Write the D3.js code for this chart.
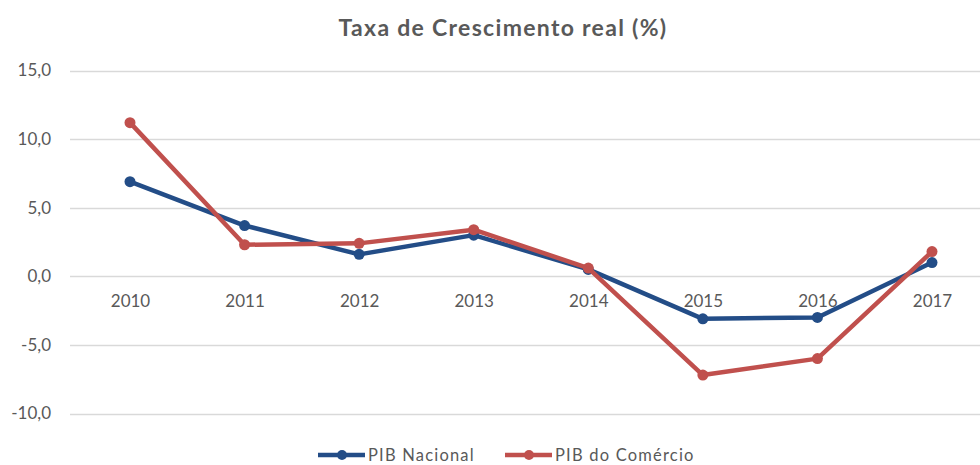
<!DOCTYPE html>
<html>
<head>
<meta charset="utf-8">
<script src="https://cdn.jsdelivr.net/npm/d3@7"></script>
<style>
  html, body { margin: 0; padding: 0; background: #fff; }
  svg { display: block; }
  text { font-family: Lato, "Open Sans", "Liberation Sans", sans-serif; }
</style>
</head>
<body>
<svg id="chart" width="980" height="465"></svg>
<script>
// Real growth rates, 2010–2017
const years = ["2010", "2011", "2012", "2013", "2014", "2015", "2016", "2017"];
const pibNacional = [6.9, 3.7, 1.6, 3.0, 0.5, -3.1, -3.0, 1.0];
const pibComercio = [11.2, 2.3, 2.4, 3.4, 0.6, -7.2, -6.0, 1.8];
const yTicks = [-10, -5, 0, 5, 10, 15];
const seriesNames = ["PIB Nacional", "PIB do Comércio"];

const series = [
  { name: seriesNames[0], values: pibNacional, color: "#234d87" },
  { name: seriesNames[1], values: pibComercio, color: "#c0504d" }
];

const svg = d3.select("#chart");
const fmt = v => d3.format(".1f")(v).replace(".", ",").replace("−", "-");
const textColor = "#595959";

const x = d3.scalePoint().domain(years).range([130, 932]);
const y = d3.scaleLinear().domain([-10, 15]).range([413.5, 70.5]);

// Title
svg.append("text")
  .attr("x", 503).attr("y", 36)
  .attr("text-anchor", "middle")
  .attr("font-size", 23).attr("font-weight", "bold")
  .attr("letter-spacing", 1.3)
  .attr("fill", textColor)
  .text("Taxa de Crescimento real (%)");

// Horizontal gridlines
svg.append("g")
  .selectAll("line")
  .data(yTicks)
  .join("line")
  .attr("x1", 70).attr("x2", 980)
  .attr("y1", d => Math.round(y(d)) + 0.5).attr("y2", d => Math.round(y(d)) + 0.5)
  .attr("stroke", "#d9d9d9").attr("stroke-width", 1.5);

// Y axis labels
const yAxis = d3.axisLeft(y).tickValues(yTicks).tickFormat(fmt).tickSize(0).tickPadding(0);
const gy = svg.append("g").attr("transform", "translate(51,0)").call(yAxis);
gy.select(".domain").remove();
gy.selectAll("text")
  .attr("font-size", 17).attr("fill", textColor)
  .attr("font-family", "Lato, 'Open Sans', sans-serif");

// Category labels sit just below the zero line
const xAxis = d3.axisBottom(x).tickSize(0).tickPadding(19);
const gx = svg.append("g").attr("transform", `translate(0,${y(0)})`).call(xAxis);
gx.select(".domain").remove();
gx.selectAll("text")
  .attr("font-size", 17).attr("fill", textColor)
  .attr("font-family", "Lato, 'Open Sans', sans-serif");

// Lines and markers
const line = d3.line().x((d, i) => x(years[i])).y(d => y(d));
series.forEach(s => {
  svg.append("path")
    .datum(s.values)
    .attr("d", line)
    .attr("fill", "none")
    .attr("stroke", s.color)
    .attr("stroke-width", 4.5)
    .attr("stroke-linejoin", "round")
    .attr("stroke-linecap", "round");
  svg.append("g")
    .selectAll("circle")
    .data(s.values)
    .join("circle")
    .attr("cx", (d, i) => x(years[i]))
    .attr("cy", d => y(d))
    .attr("r", 5.5)
    .attr("fill", s.color);
});

// Legend
const legendX = [318, 505];
const legendY = 455;
series.forEach((s, i) => {
  const g = svg.append("g").attr("transform", `translate(${legendX[i]},${legendY})`);
  g.append("line").attr("x1", 0).attr("x2", 47).attr("y1", 0).attr("y2", 0)
    .attr("stroke", s.color).attr("stroke-width", 4.5);
  g.append("circle").attr("cx", 24).attr("cy", 0).attr("r", 5).attr("fill", s.color);
  g.append("text").attr("x", 50).attr("y", 0).attr("dy", "0.35em")
    .attr("font-size", 16.5).attr("letter-spacing", 1.2)
    .attr("fill", textColor).text(s.name);
});
</script>
</body>
</html>
